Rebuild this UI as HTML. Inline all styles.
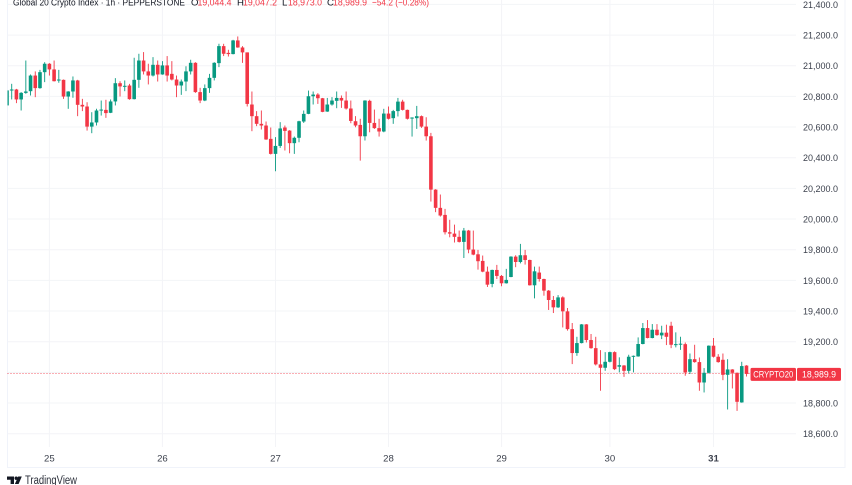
<!DOCTYPE html>
<html lang="en">
<head>
<meta charset="utf-8">
<title>Global 20 Crypto Index chart</title>
<style>
html,body{margin:0;padding:0;background:#fff;width:852px;height:485px;overflow:hidden}
svg{display:block;font-family:"Liberation Sans",sans-serif}
</style>
</head>
<body>
<svg id="chart" width="852" height="485" viewBox="0 0 852 485" xmlns="http://www.w3.org/2000/svg">
  <rect x="0" y="0" width="852" height="485" fill="#ffffff"/>
  <g id="frame" stroke="#f0f3fa" stroke-width="1" fill="none">
    <line x1="7.5" y1="0" x2="7.5" y2="468"/>
    <line x1="7.5" y1="467.5" x2="845" y2="467.5"/>
    <line x1="845" y1="0" x2="845" y2="468"/>
  </g>
  <g id="grid"></g>
  <g id="price-line"></g>
  <g id="candles"></g>
  <g id="y-axis"></g>
  <g id="x-axis"></g>
  <g id="labels"></g>
  <g font-size="9.6" fill="#131722">
    <text x="13" y="5.5" textLength="172" lengthAdjust="spacingAndGlyphs">Global 20 Crypto Index · 1h · PEPPERSTONE</text>
    <text x="191" y="5.5">O</text>
    <text x="197.5" y="5.5" fill="#f23645" textLength="34" lengthAdjust="spacingAndGlyphs">19,044.4</text>
    <text x="237" y="5.5">H</text>
    <text x="243" y="5.5" fill="#f23645" textLength="34" lengthAdjust="spacingAndGlyphs">19,047.2</text>
    <text x="282" y="5.5">L</text>
    <text x="288" y="5.5" fill="#f23645" textLength="34" lengthAdjust="spacingAndGlyphs">18,973.0</text>
    <text x="327" y="5.5">C</text>
    <text x="333" y="5.5" fill="#f23645" textLength="34" lengthAdjust="spacingAndGlyphs">18,989.9</text>
    <text x="372" y="5.5" fill="#f23645" textLength="57" lengthAdjust="spacingAndGlyphs">−54.2 (−0.28%)</text>
  </g>
  <g>
    <path fill="#131722" d="M7 476.5h7v7.5h-3.4v-4.2H7zM16.2 476.5a1.7 1.7 0 1 1 0 3.4a1.7 1.7 0 1 1 0-3.4zM18.2 476.5h3.6l-3.2 7.5h-3.7z"/>
    <text x="25" y="484" font-size="11.5" fill="#2a2e39" textLength="52" lengthAdjust="spacingAndGlyphs">TradingView</text>
  </g>
</svg>
<script>
const priceTicks = [21400,21200,21000,20800,20600,20400,20200,20000,19800,19600,19400,19200,19000,18800,18600];
const hiddenPriceLabels = [19000];
const dayLabels = ["25","26","27","28","29","30","31"];
const dayCandleIndex = [9,33,57,81,105,128,150];
const boldDays = ["31"];
const symbolLabel = "CRYPTO20";
const lastPrice = 18989.9;

const opens = [20741,20839,20845,20780,20823,20834,20936,20854,20958,21013,20976,20904,20908,20799,20832,20904,20745,20734,20603,20630,20710,20712,20693,20767,20886,20865,20871,20782,20908,21034,20963,20936,21006,20943,21002,20947,20910,20871,20897,20963,21019,20828,20773,20854,20921,21017,21128,21084,21076,21165,21119,21087,20747,20671,20621,20610,20523,20425,20477,20597,20577,20495,20530,20636,20686,20801,20812,20788,20701,20747,20771,20790,20773,20721,20638,20614,20540,20771,20627,20593,20571,20688,20658,20704,20766,20712,20658,20658,20671,20603,20540,20192,20073,20027,19914,19905,19884,19851,19925,19801,19770,19727,19657,19577,19668,19629,19581,19622,19755,19720,19764,19733,19568,19651,19609,19533,19472,19424,19489,19398,19282,19126,19191,19313,19211,19158,19052,19030,19069,19132,19037,19045,19010,19102,19104,19185,19289,19224,19278,19241,19259,19304,19178,19182,19184,19004,19086,19067,18934,18997,19174,19102,19082,18984,19019,18997,18804,19044.4];
const highs = [20839,20882,20849,20828,21034,20943,20963,20973,21023,21017,21034,20973,20910,20834,20930,20908,20784,20762,20697,20719,20773,20778,20780,20919,20899,20904,20882,21052,21078,21089,21013,21056,21034,21030,21063,21030,20936,20910,20997,21039,21023,20856,20878,20947,21023,21143,21143,21104,21169,21191,21128,21087,20832,20704,20708,20636,20597,20534,20632,20610,20580,20538,20641,20708,20838,20832,20821,20790,20790,20795,20832,20806,20832,20773,20671,20654,20775,20778,20714,20654,20719,20734,20712,20790,20778,20714,20664,20738,20675,20664,20562,20195,20160,20066,19995,19964,19925,19942,19929,19925,19799,19762,19690,19670,19701,19635,19675,19757,19764,19838,19799,19735,19690,19690,19611,19537,19498,19504,19496,19420,19322,19232,19315,19315,19250,19232,19145,19132,19135,19137,19098,19047,19115,19110,19228,19322,19341,19315,19315,19304,19311,19330,19261,19232,19195,19123,19180,19097,19028,19176,19224,19119,19123,19086,19021,18999,19069,19047.2];
const lows = [20741,20780,20756,20708,20817,20806,20795,20850,20893,20936,20897,20889,20784,20719,20791,20671,20704,20577,20560,20610,20675,20660,20691,20741,20799,20834,20778,20780,20856,20943,20878,20930,20897,20941,20897,20904,20795,20810,20834,20943,20823,20756,20769,20823,20904,20991,21063,21060,21074,21117,21019,20734,20573,20606,20584,20516,20421,20312,20464,20447,20429,20425,20501,20627,20684,20747,20751,20697,20699,20740,20723,20725,20714,20625,20599,20381,20512,20566,20588,20538,20566,20649,20621,20669,20708,20649,20538,20588,20595,20512,20114,20045,20016,19899,19881,19847,19847,19746,19777,19764,19670,19653,19557,19555,19609,19562,19579,19620,19686,19711,19703,19566,19483,19592,19500,19407,19387,19420,19293,19272,19054,19108,19189,19195,19154,19045,18880,19010,19065,19015,19000,18971,18993,19000,19102,19183,19222,19222,19239,19217,19178,19158,19163,19147,18978,18989,19063,18880,18869,18993,19097,19063,18949,18758,18895,18749,18802,18973];
const closes = [20839,20845,20780,20823,20832,20936,20854,20958,21013,20976,20899,20910,20799,20832,20904,20745,20734,20603,20630,20708,20714,20691,20767,20886,20865,20869,20782,20908,21034,20963,20936,21006,20943,21002,20936,20910,20871,20897,20963,21019,20828,20773,20854,20921,21019,21128,21078,21076,21165,21119,21087,20751,20671,20621,20610,20519,20425,20477,20591,20575,20495,20530,20638,20686,20801,20812,20788,20699,20747,20773,20790,20773,20721,20640,20610,20540,20773,20627,20593,20571,20688,20654,20704,20766,20712,20654,20662,20671,20603,20540,20192,20073,20023,19914,19905,19884,19851,19925,19801,19768,19725,19657,19572,19668,19629,19581,19603,19755,19720,19764,19733,19568,19659,19609,19533,19472,19424,19489,19398,19282,19126,19191,19313,19211,19158,19052,19030,19069,19132,19021,19047,19010,19102,19108,19185,19289,19224,19278,19243,19259,19232,19180,19184,19187,18999,19086,19067,18934,18997,19174,19102,19067,18984,19019,18997,18808,19041,18989.9];

const UP = "#089981", DOWN = "#f23645", GRID = "#f3f4f7", NS = "http://www.w3.org/2000/svg";
const xOf = i => 7 + 4.71 * i;
const yOf = p => 4.4 + (21400 - p) * 0.15332;
const make = (tag, parent, props) => {
  const el = document.createElementNS(NS, tag);
  for (const k in props) el.setAttribute(k, props[k]);
  parent.appendChild(el);
  return el;
};
const gridG = document.getElementById('grid');
const candlesG = document.getElementById('candles');
const yG = document.getElementById('y-axis');
const xG = document.getElementById('x-axis');
const lineG = document.getElementById('price-line');
const labelG = document.getElementById('labels');

priceTicks.forEach(p => {
  const y = yOf(p);
  const g = make('line', gridG, {x1: 7.5, x2: 796, y1: y, y2: y, stroke: GRID, 'stroke-width': 1});
  
  
  if (hiddenPriceLabels.indexOf(p) === -1) {
    const t = make('text', yG, {x: 803, y: y + 3.4, 'font-size': 9.6, fill: '#3c414d', textLength: 35, lengthAdjust: 'spacingAndGlyphs'});
    
    
    t.textContent = p.toLocaleString('en-US', {minimumFractionDigits: 1, maximumFractionDigits: 1});
  }
});

dayLabels.forEach((d, n) => {
  const x = xOf(dayCandleIndex[n]);
  const g = make('line', gridG, {x1: x, x2: x, y1: 0, y2: 447, stroke: GRID, 'stroke-width': 1});
  
  
  const t = make('text', xG, {x: x, y: 461.5, 'font-size': 9.6, fill: '#3c414d', 'text-anchor': 'middle', 'font-weight': boldDays.indexOf(d) === -1 ? 'normal' : 'bold'});
  
  
  t.textContent = d;
});

const clip = make('clipPath', candlesG, {id: 'pane-clip'});
make('rect', clip, {x: 7.5, y: 0, width: 790, height: 447});
candlesG.setAttribute('clip-path', 'url(#pane-clip)');

opens.forEach((o, i) => {
  const c = closes[i], color = c >= o ? UP : DOWN, x = xOf(i);
  const wick = make('line', candlesG, {x1: x, x2: x, y1: yOf(highs[i]), y2: yOf(lows[i]), stroke: color, 'stroke-width': 0.9});
  
  
  const top = yOf(Math.max(o, c)), h = Math.max(1, Math.abs(yOf(o) - yOf(c)));
  const body = make('rect', candlesG, {x: x - 1.8, y: top, width: 3.6, height: h, fill: color});
  
  
});

const ly = yOf(lastPrice);
const pl = make('line', lineG, {x1: 7.5, x2: 750, y1: Math.floor(ly) + 0.5, y2: Math.floor(ly) + 0.5, stroke: DOWN, 'stroke-width': 1, 'stroke-dasharray': '1 2', opacity: 0.8});



const symBox = make('rect', labelG, {x: 750.5, y: ly - 6, width: 45.5, height: 13, rx: 1.5, fill: DOWN});


const symText = make('text', labelG, {x: 773.2, y: ly + 3.8, 'font-size': 9.6, fill: '#ffffff', 'text-anchor': 'middle', textLength: 40, lengthAdjust: 'spacingAndGlyphs'});


symText.textContent = symbolLabel;
const priceBox = make('rect', labelG, {x: 797, y: ly - 6, width: 44, height: 13, rx: 1.5, fill: DOWN});


const priceText = make('text', labelG, {x: 819, y: ly + 3.8, 'font-size': 9.6, fill: '#ffffff', 'text-anchor': 'middle', textLength: 34, lengthAdjust: 'spacingAndGlyphs'});


priceText.textContent = lastPrice.toLocaleString('en-US', {minimumFractionDigits: 1});
</script>
</body>
</html>
